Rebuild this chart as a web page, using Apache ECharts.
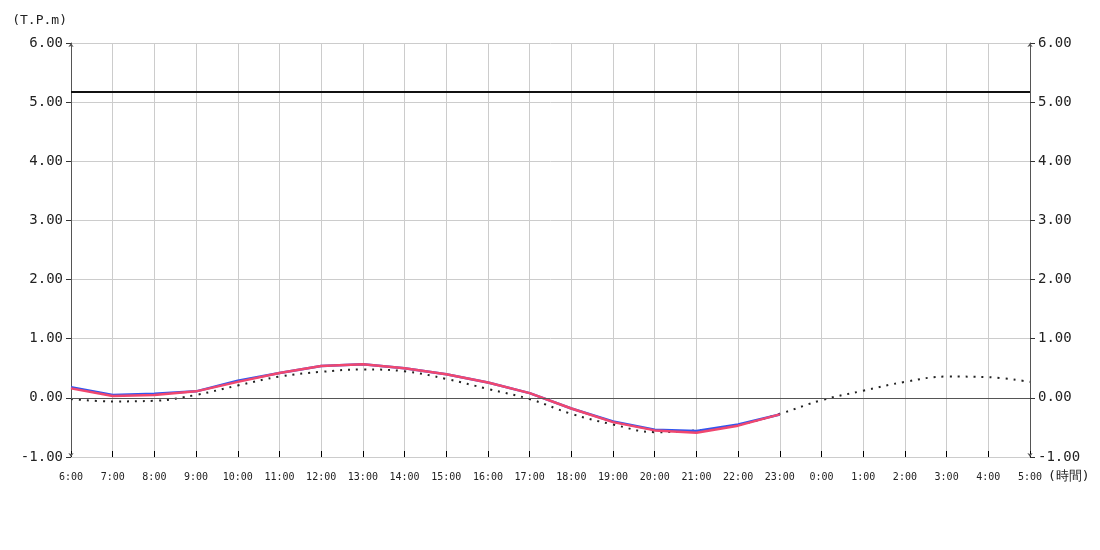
<!DOCTYPE html>
<html>
<head>
<meta charset="utf-8">
<script src="https://cdn.jsdelivr.net/npm/echarts@6/dist/echarts.min.js"></script>
<style>
  html, body { margin: 0; padding: 0; background: #fff; }
  #chart { width: 1100px; height: 550px; }
</style>
</head>
<body>
<div id="chart"></div>
<script>
// 時刻
const hours = ['6:00', '7:00', '8:00', '9:00', '10:00', '11:00', '12:00', '13:00', '14:00', '15:00', '16:00', '17:00',
  '18:00', '19:00', '20:00', '21:00', '22:00', '23:00', '0:00', '1:00', '2:00', '3:00', '4:00', '5:00']
// 推算潮位 (点線)
const predicted = [-0.02, -0.06, -0.05, 0.05, 0.21, 0.36, 0.44, 0.48, 0.45, 0.32, 0.15, -0.02,
  -0.27, -0.45, -0.58, -0.55, -0.46, -0.27, -0.04, 0.12, 0.27, 0.36, 0.35, 0.27]
// 観測潮位 (青)
const observedBlue = [0.18, 0.05, 0.07, 0.11, 0.29, 0.42, 0.54, 0.57, 0.50, 0.40, 0.26, 0.08,
  -0.18, -0.40, -0.54, -0.56, -0.45, -0.28]
// 観測潮位 (赤)
const observedRed = [0.16, 0.03, 0.05, 0.11, 0.27, 0.42, 0.54, 0.57, 0.50, 0.40, 0.26, 0.08,
  -0.18, -0.41, -0.55, -0.59, -0.47, -0.28]
// 基準線
const alertLevel = 5.17
const yTicks = { min: -1, max: 6, interval: 1 }

const font = 'DejaVu Sans Mono'

const yAxisBase = {
  type: 'value',
  min: yTicks.min,
  max: yTicks.max,
  interval: yTicks.interval,
  axisLine: { show: true, symbol: ['arrow', 'arrow'], symbolSize: [4, 4], lineStyle: { color: '#555' } },
  axisTick: { show: true, length: 5, lineStyle: { color: '#333' } },
  axisLabel: {
    fontFamily: font,
    fontSize: 14,
    color: '#222',
    margin: 8,
    formatter: v => v.toFixed(2)
  }
}

const chart = echarts.init(document.getElementById('chart'))
chart.setOption({
  animation: false,
  grid: { left: 71, right: 70, top: 43, bottom: 93 },
  xAxis: {
    type: 'category',
    data: hours,
    boundaryGap: false,
    axisLine: { onZero: false, lineStyle: { color: '#ccc' } },
    axisTick: { inside: true, length: 6, lineStyle: { color: '#000' } },
    axisLabel: { fontFamily: font, fontSize: 10, color: '#222', margin: 15 },
    splitLine: { show: true, lineStyle: { color: '#ccc' } },
    name: '(時間)',
    nameLocation: 'end',
    nameGap: 8,
    nameTextStyle: { fontFamily: font, fontSize: 13, color: '#222', verticalAlign: 'top', padding: [13, 0, 0, 0] }
  },
  yAxis: [
    Object.assign({}, yAxisBase, {
      position: 'left',
      splitLine: { show: true, lineStyle: { color: '#ccc' } },
      name: '(T.P.m)',
      nameLocation: 'end',
      nameGap: 16,
      nameTextStyle: { fontFamily: font, fontSize: 13, color: '#222', align: 'right', padding: [0, 4, 0, 0] }
    }),
    Object.assign({}, yAxisBase, {
      position: 'right',
      splitLine: { show: false }
    })
  ],
  series: [
    {
      name: '推算潮位',
      type: 'line',
      data: predicted,
      smooth: 0.4,
      symbol: 'none',
      lineStyle: { color: '#222', width: 2, type: [2, 6] },
      markLine: {
        silent: true,
        symbol: 'none',
        label: { show: false },
        data: [
          { yAxis: 0, lineStyle: { color: '#555', width: 1, type: 'solid' } },
          { yAxis: alertLevel, lineStyle: { color: '#111', width: 2, type: 'solid' } }
        ]
      }
    },
    {
      name: '観測潮位',
      type: 'line',
      data: observedBlue,
      symbol: 'none',
      lineStyle: { color: '#3355ee', width: 2.5 }
    },
    {
      name: '観測潮位2',
      type: 'line',
      data: observedRed,
      symbol: 'none',
      lineStyle: { color: '#f0476f', width: 2.5 }
    }
  ]
})
</script>
</body>
</html>
